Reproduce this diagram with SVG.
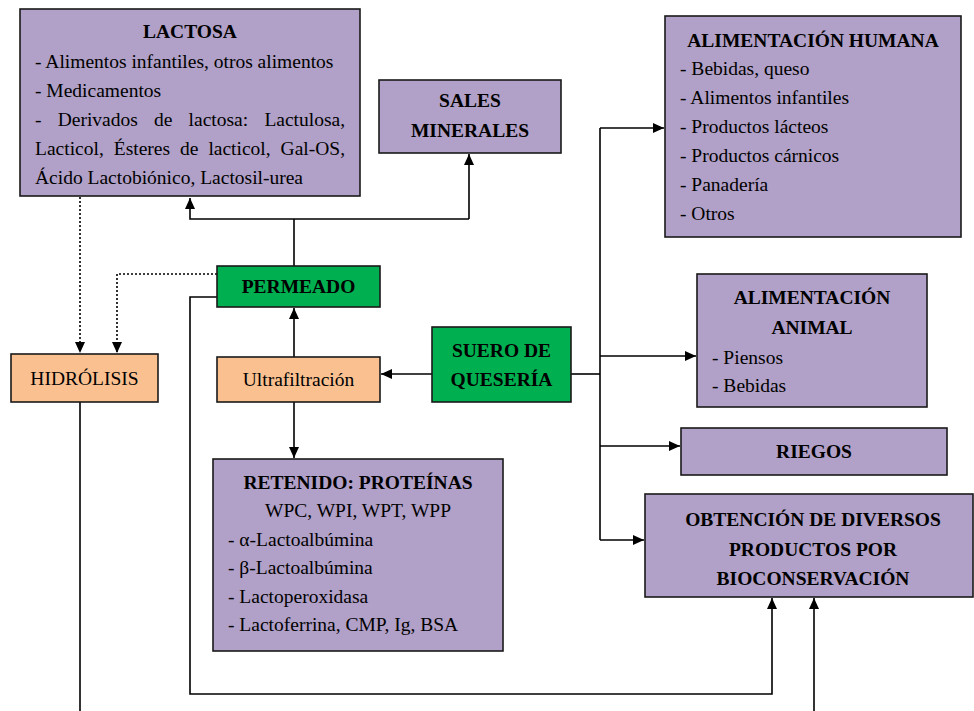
<svg xmlns="http://www.w3.org/2000/svg" width="974" height="711" viewBox="0 0 974 711">
<style>
text{font-family:"Liberation Serif","Times New Roman",serif;font-size:19.5px;fill:#000}
.b{font-weight:bold}
.c{text-anchor:middle}
.box{stroke:#1a1a1a;stroke-width:1.6}
.pu{fill:#B1A0C7}
.gr{fill:#00B050}
.or{fill:#FAC090}
.sh{fill:#555}
.ln{fill:none;stroke:#000;stroke-width:1.6}
.dot{fill:none;stroke:#000;stroke-width:1.6;stroke-dasharray:2 2}
</style>
<defs>
<marker id="ah" markerUnits="userSpaceOnUse" markerWidth="12" markerHeight="10" refX="11" refY="5" orient="auto">
<path d="M0,0 L11,5 L0,10 z" fill="#000"/>
</marker>
</defs>
<g id="connectors">
<path class="dot" d="M80,197 V353" marker-end="url(#ah)"/>
<path class="dot" d="M217,274 H117 V353" marker-end="url(#ah)"/>
<path class="ln" d="M294,266 V219"/>
<path class="ln" d="M469,219 H190 V198" marker-end="url(#ah)"/>
<path class="ln" d="M469,219 V154" marker-end="url(#ah)"/>
<path class="ln" d="M294,357 V308" marker-end="url(#ah)"/>
<path class="ln" d="M294,402 V458" marker-end="url(#ah)"/>
<path class="ln" d="M432,374 H381" marker-end="url(#ah)"/>
<path class="ln" d="M571,374 H600"/>
<path class="ln" d="M600,128 V540"/>
<path class="ln" d="M600,128 H664" marker-end="url(#ah)"/>
<path class="ln" d="M600,356 H696" marker-end="url(#ah)"/>
<path class="ln" d="M600,446 H680" marker-end="url(#ah)"/>
<path class="ln" d="M600,540 H644" marker-end="url(#ah)"/>
<path class="ln" d="M217,297 H190 V694 H772 V598" marker-end="url(#ah)"/>
<path class="ln" d="M80,402 V711"/>
<path class="ln" d="M814,711 V598" marker-end="url(#ah)"/>
</g>
<g id="lactosa">
<rect class="box pu" x="20" y="9" width="340" height="187"/>
<text class="b c" x="190" y="38">LACTOSA</text>
<text x="35" y="68">- Alimentos infantiles, otros alimentos</text>
<text x="35" y="97">- Medicamentos</text>
<text y="126"><tspan x="35">-</tspan><tspan x="57.7">Derivados</tspan><tspan x="154">de</tspan><tspan x="188.6">lactosa:</tspan><tspan x="264.4">Lactulosa,</tspan></text>
<text y="155"><tspan x="35">Lacticol,</tspan><tspan x="113.8">Ésteres</tspan><tspan x="180">de</tspan><tspan x="208.4">lacticol,</tspan><tspan x="280.6">Gal-OS,</tspan></text>
<text x="35" y="184">Ácido Lactobiónico, Lactosil-urea</text>
</g>
<g id="sales">
<rect class="box pu" x="379" y="80" width="182" height="73"/>
<text class="b c" x="470" y="107">SALES</text>
<text class="b c" x="470" y="137">MINERALES</text>
</g>
<g id="alim-humana">
<rect class="box pu" x="665" y="16" width="296" height="221"/>
<text class="b c" x="813" y="47">ALIMENTACIÓN HUMANA</text>
<text x="680" y="75">- Bebidas, queso</text>
<text x="680" y="104">- Alimentos infantiles</text>
<text x="680" y="133">- Productos lácteos</text>
<text x="680" y="162">- Productos cárnicos</text>
<text x="680" y="191">- Panadería</text>
<text x="680" y="220">- Otros</text>
</g>
<g id="permeado">
<rect class="box gr" x="217" y="266" width="163" height="41"/>
<text class="b c" x="298.5" y="293">PERMEADO</text>
</g>
<g id="hidrolisis">
<rect class="box or" x="11" y="354" width="147" height="48"/>
<text class="c" x="84.5" y="385">HIDRÓLISIS</text>
</g>
<g id="ultrafiltracion">
<rect class="box or" x="217" y="357" width="163" height="45"/>
<text class="c" x="298.5" y="386">Ultrafiltración</text>
</g>
<g id="suero">
<rect class="box gr" x="432" y="327" width="139" height="75"/>
<text class="b c" x="501.5" y="357">SUERO DE</text>
<text class="b c" x="501.5" y="386">QUESERÍA</text>
</g>
<g id="alim-animal">
<rect class="box pu" x="697" y="274" width="230" height="133"/>
<text class="b c" x="812" y="304">ALIMENTACIÓN</text>
<text class="b c" x="812" y="334">ANIMAL</text>
<text x="712" y="364">- Piensos</text>
<text x="712" y="392">- Bebidas</text>
</g>
<g id="riegos">
<rect class="box pu" x="681" y="428" width="266" height="47"/>
<text class="b c" x="814" y="458">RIEGOS</text>
</g>
<g id="obtencion">
<rect class="box pu" x="645" y="494" width="328" height="103"/>
<text class="b c" x="813" y="526">OBTENCIÓN DE DIVERSOS</text>
<text class="b c" x="813" y="556">PRODUCTOS POR</text>
<text class="b c" x="813" y="585">BIOCONSERVACIÓN</text>
</g>
<g id="retenido">
<rect class="box pu" x="213" y="459" width="290" height="192"/>
<text class="b c" x="358" y="489">RETENIDO: PROTEÍNAS</text>
<text class="c" x="358" y="517">WPC, WPI, WPT, WPP</text>
<text x="228" y="546">- α-Lactoalbúmina</text>
<text x="228" y="574">- β-Lactoalbúmina</text>
<text x="228" y="603">- Lactoperoxidasa</text>
<text x="228" y="631">- Lactoferrina, CMP, Ig, BSA</text>
</g>
</svg>
